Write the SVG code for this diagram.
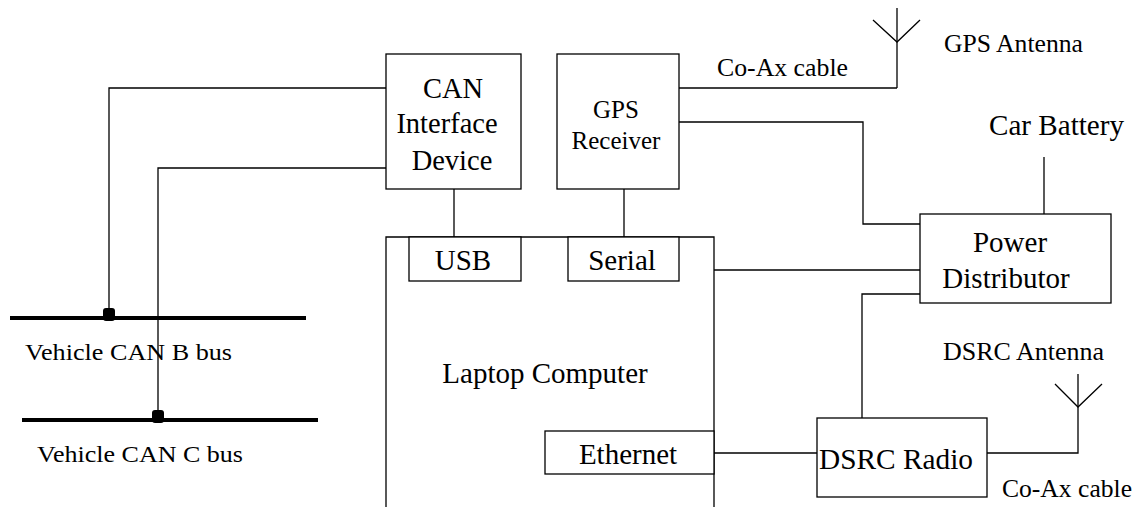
<svg xmlns="http://www.w3.org/2000/svg" width="1137" height="507" viewBox="0 0 1137 507">
<style>
.box{fill:#fff;stroke:#000;stroke-width:1.3}
.ln{fill:none;stroke:#000;stroke-width:1.3}
.bus{fill:none;stroke:#000;stroke-width:4}
text{fill:#000;font-family:Liberation Serif,DejaVu Serif,serif}
.big{font-size:29px}
.mid{font-size:25.5px}
.sm{font-size:24px}
.c{text-anchor:middle}
</style>
<rect width="1137" height="507" fill="#fff"/>
<g id="connectors">
<polyline class="ln" points="386,88 109,88 109,314"/>
<polyline class="ln" points="386,168 158,168 158,416"/>
<line class="ln" x1="454" y1="189" x2="454" y2="237"/>
<line class="ln" x1="624" y1="189" x2="624" y2="237"/>
<line class="ln" x1="679" y1="88" x2="897" y2="88"/>
<polyline class="ln" points="679,122 863,122 863,224 920,224"/>
<line class="ln" x1="714" y1="270" x2="920" y2="270"/>
<polyline class="ln" points="920,294 862,294 862,418"/>
<line class="ln" x1="714" y1="453" x2="817" y2="453"/>
<polyline class="ln" points="987,453 1078,453 1078,374"/>
<line class="ln" x1="1044" y1="157" x2="1044" y2="214"/>
</g>
<g id="can-b-bus">
<line class="bus" x1="10" y1="318" x2="306" y2="318"/>
<rect x="103" y="308" width="12" height="13" rx="3"/>
<text class="sm" x="25" y="360" textLength="207" lengthAdjust="spacingAndGlyphs">Vehicle CAN B bus</text>
</g>
<g id="can-c-bus">
<line class="bus" x1="22" y1="420" x2="318" y2="420"/>
<rect x="152" y="410" width="12" height="13" rx="3"/>
<text class="sm" x="37" y="462" textLength="206" lengthAdjust="spacingAndGlyphs">Vehicle CAN C bus</text>
</g>
<g id="can-interface">
<rect class="box" x="386" y="54" width="135" height="135"/>
<text class="c" x="453" y="98" font-size="28.5">CAN</text>
<text class="c" x="447" y="133" font-size="28.5">Interface</text>
<text class="c" x="452" y="170" font-size="28.5">Device</text>
</g>
<g id="gps-receiver">
<rect class="box" x="557" y="54" width="122" height="135"/>
<text class="c" x="616" y="118" font-size="25">GPS</text>
<text class="c" x="616" y="149" font-size="25">Receiver</text>
</g>
<g id="laptop">
<path class="ln" d="M386,507 V237 H714 V507"/>
<text class="big c" x="545" y="383">Laptop Computer</text>
</g>
<g id="usb">
<rect class="box" x="409" y="237" width="112" height="44"/>
<text class="big c" x="463" y="270">USB</text>
</g>
<g id="serial">
<rect class="box" x="568" y="237" width="111" height="44"/>
<text class="big c" x="622" y="270">Serial</text>
</g>
<g id="ethernet">
<rect class="box" x="545" y="431" width="169" height="43"/>
<text class="big c" x="628" y="464">Ethernet</text>
</g>
<g id="power-distributor">
<rect class="box" x="920" y="214" width="191" height="89"/>
<text class="big c" x="1010" y="252">Power</text>
<text class="big c" x="1006" y="288">Distributor</text>
</g>
<g id="dsrc-radio">
<rect class="box" x="817" y="418" width="170" height="79"/>
<text class="big" x="819" y="469" textLength="154" lengthAdjust="spacingAndGlyphs">DSRC Radio</text>
</g>
<g id="car-battery">
<text class="big" x="989" y="135" textLength="135" lengthAdjust="spacingAndGlyphs">Car Battery</text>
</g>
<g id="gps-antenna">
<polyline class="ln" points="897,8 897,88"/>
<polyline class="ln" points="873,20 897,42 920,20"/>
<text class="mid" x="944" y="52" textLength="139" lengthAdjust="spacingAndGlyphs">GPS Antenna</text>
<text class="mid" x="717" y="76" textLength="131" lengthAdjust="spacingAndGlyphs">Co-Ax cable</text>
</g>
<g id="dsrc-antenna">
<polyline class="ln" points="1055,384 1078,407 1102,384"/>
<text class="mid" x="943" y="360" textLength="161" lengthAdjust="spacingAndGlyphs">DSRC Antenna</text>
<text class="mid" x="1002" y="497" textLength="130" lengthAdjust="spacingAndGlyphs">Co-Ax cable</text>
</g>
</svg>
